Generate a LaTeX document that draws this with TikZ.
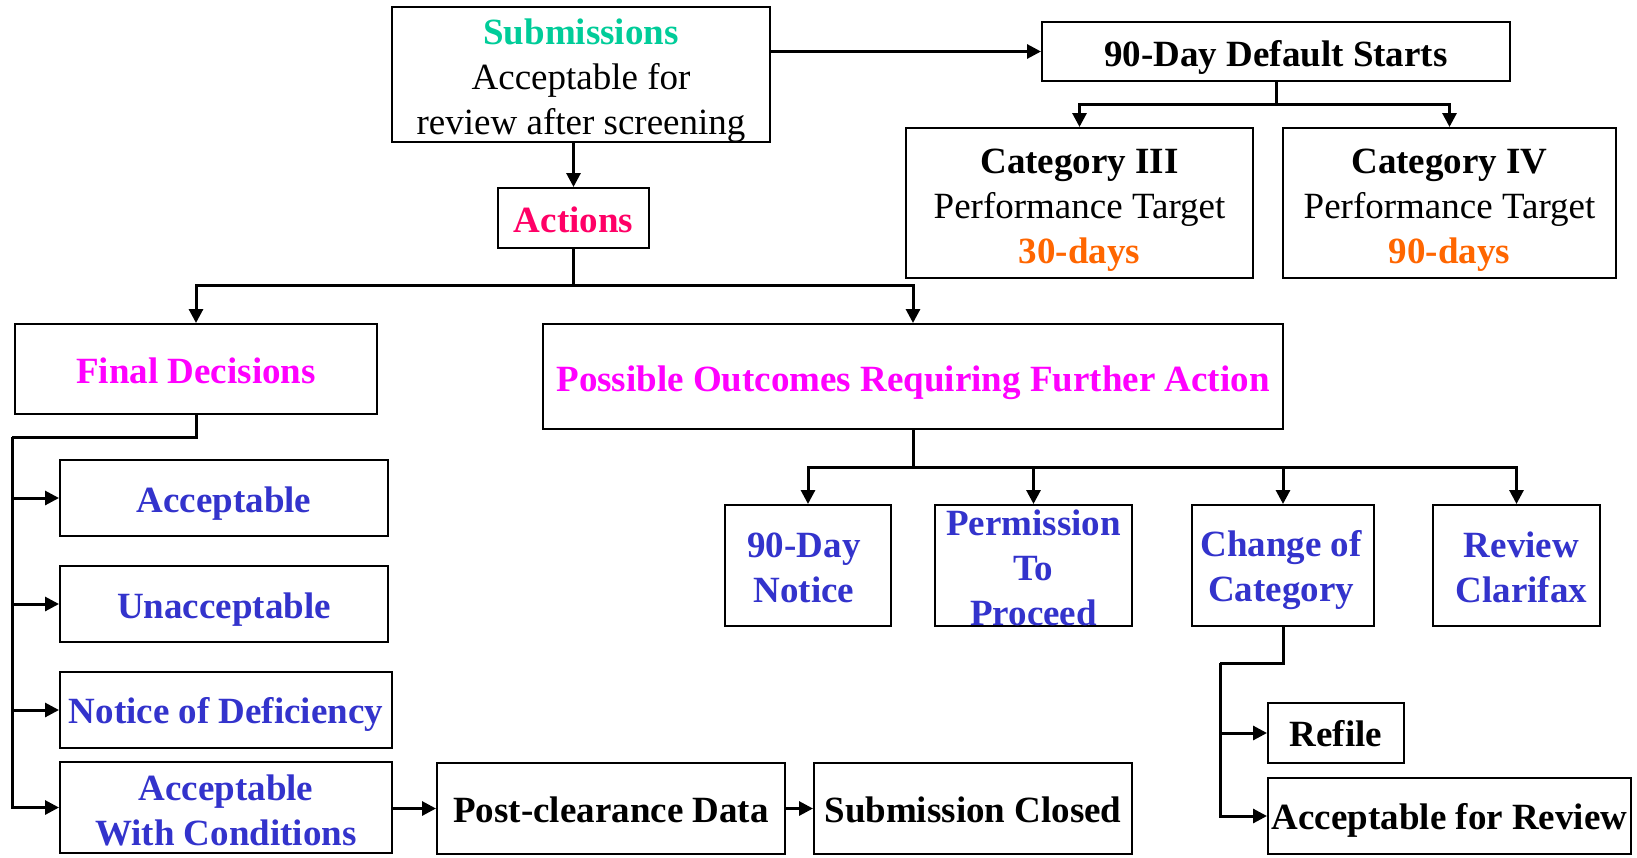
\documentclass[tikz,border=0pt]{standalone}
\usepackage{fontspec}
\setmainfont{Liberation Serif}
\usetikzlibrary{arrows.meta}
\definecolor{teal1}{HTML}{00CC99}
\definecolor{crim}{HTML}{FF0066}
\definecolor{mag}{HTML}{FF00FF}
\definecolor{blu}{HTML}{3333CC}
\definecolor{orng}{HTML}{FF6600}
% box frame plus its (slightly offset) label:
% name, centre x, centre y, width, height, text dx, text dy (down), text
\newcommand\mkbox[8]{%
  \node[boxshape, minimum width=#4, minimum height=#5] (#1) at (#2,#3) {};
  \node[txt] (#1-t) at ([xshift=#6pt,yshift=-#7pt]#1.center) {#8};}
\newcommand\bl[1]{\textbf{\textcolor{blu}{#1}}}
\begin{document}
\begin{tikzpicture}[x=1pt,y=-1pt,
  boxshape/.style={draw=black, line width=2pt, inner sep=0pt, fill=white},
  txt/.style={inner sep=0pt, align=center, font=\fontsize{37}{45}\selectfont},
  conn/.style={draw=black, line width=3pt},
  arr/.style={conn, -{Triangle[length=14pt,width=14pt]}}
]
\useasboundingbox (0,0) rectangle (1637,857);
\fill[white] (0,0) rectangle (1637,857);

% top row
\mkbox{sub}{581}{74.5}{378}{135}{0}{6}
  {\textbf{\textcolor{teal1}{Submissions}}\\Acceptable for\\review after screening}
\mkbox{dflt}{1276}{51.5}{468}{59}{0}{6}{\textbf{90-Day Default Starts}}
\mkbox{cat3}{1079.5}{203}{347}{150}{0}{7}
  {\textbf{Category III}\\Performance Target\\\textbf{\textcolor{orng}{30-days}}}
\mkbox{cat4}{1449.5}{203}{333}{150}{0}{7}
  {\textbf{Category IV}\\Performance Target\\\textbf{\textcolor{orng}{90-days}}}
\mkbox{act}{573.5}{218}{151}{60}{0}{2}{\textbf{\textcolor{crim}{Actions}}}

% second level
\mkbox{fin}{196}{369}{362}{90}{0}{2}{\textbf{\textcolor{mag}{Final Decisions}}}
\mkbox{pos}{913}{376.5}{740}{105}{0}{6}
  {\textbf{\textcolor{mag}{Possible Outcomes Requiring Further Action}}}

% final decisions
\mkbox{acc}{224}{498}{328}{76}{0}{6}{\bl{Acceptable}}
\mkbox{unacc}{224}{604}{328}{76}{0}{6}{\bl{Unacceptable}}
\mkbox{nod}{226}{710}{332}{76}{0}{4}{\bl{Notice of Deficiency}}
\mkbox{awc}{226}{807.5}{332}{91}{0}{3}{\bl{Acceptable}\\\bl{With Conditions}}
\mkbox{pcd}{611}{808.5}{348}{91}{0}{1}{\textbf{Post-clearance Data}}
\mkbox{scl}{973}{808.5}{318}{91}{0}{1}{\textbf{Submission Closed}}

% further action outcomes
\mkbox{n90}{808}{565.5}{166}{121}{-4}{2}{\bl{90-Day}\\\bl{Notice}}
\mkbox{ptp}{1033.5}{565.5}{197}{121}{0}{2}{\bl{Permission}\\\bl{To}\\\bl{Proceed}}
\mkbox{coc}{1283}{565.5}{182}{121}{-2}{5}{\bl{Change of}\\\bl{Category}}
\mkbox{rc}{1516.5}{565.5}{167}{121}{5}{2}{\bl{Review}\\\bl{Clarifax}}
\mkbox{ref}{1336}{733}{136}{60}{0}{1}{\textbf{Refile}}
\mkbox{afr}{1449.5}{816}{363}{76}{0}{4}{\textbf{Acceptable for Review}}

% junction points
\coordinate (dj) at (1276,104);
\coordinate (aj) at (573.5,285);
\coordinate (fj) at (196,437);
\coordinate (fl) at (12,437);
\coordinate (pj) at (913,467);
\coordinate (cj) at (1283,663);
\coordinate (cl) at (1220,663);

% connectors
\draw[arr] (dflt.west -| sub.east) -- (dflt.west);
\draw[arr] (act.north |- sub.south) -- (act.north);
\draw[conn] (dflt.south) -- (dj);
\draw[arr] (dj) -| (cat3.north);
\draw[arr] (dj) -| (cat4.north);
\draw[conn] (act.south) -- (aj);
\draw[arr] (aj) -| (fin.north);
\draw[arr] (aj) -| (pos.north);
\draw[conn] (fin.south) -- (fj) -- (fl);
\draw[arr] (fl) |- (acc.west);
\draw[arr] (fl) |- (unacc.west);
\draw[arr] (fl) |- (nod.west);
\draw[arr] (fl) |- (awc.west);
\draw[arr] (pcd.west -| awc.east) -- (pcd.west);
\draw[arr] (pcd.east) -- (scl.west);
\draw[conn] (pos.south) -- (pj);
\draw[arr] (pj) -| (n90.north);
\draw[arr] (pj) -| (ptp.north);
\draw[arr] (pj) -| (coc.north);
\draw[arr] (pj) -| (rc.north);
\draw[conn] (coc.south) -- (cj) -- (cl);
\draw[arr] (cl) |- (ref.west);
\draw[arr] (cl) |- (afr.west);
\end{tikzpicture}
\end{document}
